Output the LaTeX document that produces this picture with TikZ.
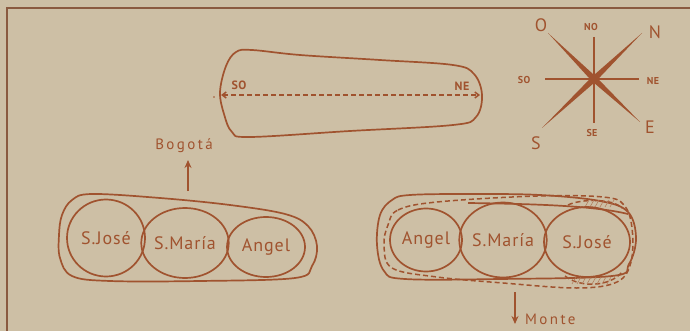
\documentclass[tikz,border=0pt]{standalone}
\usepackage{fontspec}
\setmainfont{PT Sans}
\newfontfamily\hand[LetterSpace=5]{PT Sans}
\newfontfamily\handw[LetterSpace=16]{PT Sans}
\newfontfamily\handb[LetterSpace=4]{PT Sans Bold}
\usetikzlibrary{arrows.meta,shapes.geometric,calc}
\definecolor{bg}{HTML}{CDBFA5}
\definecolor{ink}{HTML}{A0532F}
\definecolor{frame}{HTML}{8A5A40}
\begin{document}
\begin{tikzpicture}[x=1pt,y=-1pt,
  outline/.style={draw=ink,line width=1.7pt,line join=round},
  dashline/.style={draw=ink,line width=1.5pt,dash pattern=on 5pt off 3pt},
  town/.style={ellipse,draw=ink,line width=1.7pt,text=ink,inner sep=0pt,
     font=\hand\fontsize{18}{18}\selectfont},
  lbl/.style={text=ink,inner sep=0pt,font=\handw\fontsize{15}{15}\selectfont},
  small/.style={text=ink,inner sep=0pt,font=\handb\fontsize{10}{10}\selectfont},
  big/.style={text=ink,inner sep=0pt,font=\fontsize{18}{18}\selectfont},
  pointer/.style={draw=ink,line width=1.6pt,-{Stealth[length=8pt,width=7pt]}},
  hatch/.style={draw=ink!60!bg,line width=0.6pt}
]
\fill[bg] (0,0) rectangle (690,331);
\useasboundingbox (0,0) rectangle (690,331);
% frame
\draw[frame,line width=1.5pt] (7,331) -- (7,8) -- (690,8);

% ---------- top blob ----------
\draw[outline] plot[smooth cycle,tension=0.6] coordinates {
  (236,52) (252,50) (300,55) (380,60) (453,65) (474,74) (482,95)
  (476,117) (453,125) (350,131) (250,137) (232,132) (224,114) (220,92) (226,66)};
\coordinate (sw) at (221,95);
\coordinate (ne) at (480,95);
\draw[dashline,{Straight Barb[length=4pt,width=6pt]}-{Straight Barb[length=4pt,width=6pt]}] (sw) -- (ne);
\fill[ink] (214,97) circle (0.9pt);
\node[small,font=\handb\fontsize{12}{12}\selectfont] (tso) at (239,85) {SO};
\node[small,font=\handb\fontsize{12}{12}\selectfont] (tne) at (462,86) {NE};

% ---------- compass ----------
\coordinate (c) at (594,79);
\coordinate (po) at (548,33);
\coordinate (pe) at (640,122);
\coordinate (pn) at (642,33);
\coordinate (ps) at (542,128);
\coordinate (pno) at (594,37);
\coordinate (pse) at (594,123);
\coordinate (pso) at (545,79);
\coordinate (pne) at (639,79);
\draw[ink,line width=1.1pt] (pno) -- (pse);
\draw[ink,line width=1.1pt] (pso) -- (pne);
\fill[ink] (po) -- ($(c)!3pt!90:(po)$) -- (pe) -- ($(c)!3pt!-90:(po)$) -- cycle;
\fill[ink] (pn) -- ($(c)!3pt!90:(pn)$) -- (ps) -- ($(c)!3pt!-90:(pn)$) -- cycle;
\fill[ink] (c) circle (3.4pt);
\node[big] (lo) at (541,25) {O};
\node[small] (lno) at (591,27) {NO};
\node[big] (ln) at (655,32) {N};
\node[small] (lso) at (524,80) {SO};
\node[small] (lne) at (653,81) {NE};
\node[big] (ls) at (536,143) {S};
\node[small] (lse) at (592,133) {SE};
\node[big] (le) at (650,127) {E};

% ---------- Bogota ----------
\node[lbl] (bog) at (184,146) {Bogotá};
\coordinate (bogA) at (188,191);
\coordinate (bogB) at (188,160);
\draw[pointer] (bogA) -- (bogB);

% ---------- left group ----------
\draw[outline] plot[smooth cycle,tension=0.6] coordinates {
  (62,215) (72,200) (92,194) (160,198) (230,205) (285,214) (308,226) (317,246)
  (312,266) (295,278) (200,281) (110,281) (72,276) (60,258) (59,235)};
\node[town,minimum width=78pt,minimum height=77pt] (lj) at (106,238) {S.José};
\node[town,minimum width=76pt,minimum height=70pt] (lm) at (185,243) {S.María};
\node[town,minimum width=78pt,minimum height=60pt] (la) at (266,247) {Angel};

% ---------- right group ----------
\draw[outline] plot[smooth cycle,tension=0.6] coordinates {
  (380,215) (392,200) (410,195) (470,194) (540,195) (600,201) (628,212) (636,238)
  (629,264) (612,276) (500,279) (405,279) (384,271) (377,245)};
\draw[outline] (468,203) .. controls (540,204) and (595,206) .. (628,214);
\draw[dashline] plot[smooth cycle,tension=0.6] coordinates {
  (388,225) (398,210) (437,202) (537,196) (603,197) (624,205) (632,228)
  (631,262) (617,282) (577,288) (503,283) (437,277) (392,268) (384,245)};
\draw[dashline] (568,205) .. controls (580,199) and (612,198) .. (622,208);
\draw[dashline] (565,276) .. controls (580,288) and (610,287) .. (622,272);
\foreach \x in {585,590,...,610} {\draw[hatch] (\x,207) -- (\x+4,200);}
\foreach \x in {572,577,...,607} {\draw[hatch] (\x,284) -- (\x+4,277);}
\node[town,minimum width=72pt,minimum height=63pt] (ra) at (426,240) {Angel};
\node[town,minimum width=79pt,minimum height=75pt] (rm) at (503,240) {S.María};
\node[town,minimum width=86pt,minimum height=70pt] (rj) at (587,242) {S.José};

% ---------- Monte ----------
\coordinate (monA) at (515,292);
\coordinate (monB) at (515,324);
\draw[pointer] (monA) -- (monB);
\node[lbl,anchor=west] (mon) at (525,319) {Monte};
\end{tikzpicture}
\end{document}
